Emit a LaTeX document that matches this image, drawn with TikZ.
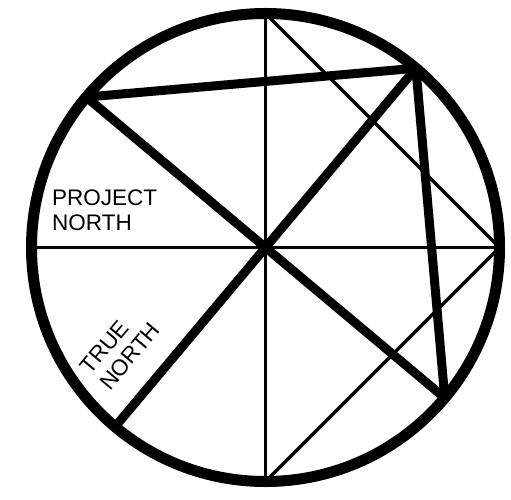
\documentclass[tikz,border=0pt]{standalone}
\usepackage{fontspec}
\setmainfont{Liberation Sans}
\begin{document}
\begin{tikzpicture}[x=1pt,y=1pt,
  thinline/.style={line width=3.5pt,line cap=butt},
  thickline/.style={line width=9pt,line cap=butt},
  ring/.style={line width=11pt},
  label/.style={inner sep=0pt,align=left,font=\fontsize{22.5}{25}\selectfont}]
\useasboundingbox (0,0) rectangle (511,499);
\coordinate (O) at (265.5,251.5);
\foreach \a/\n in {0/E,90/N,180/W,270/S,50/NE,140/NW,230/SW,320/SE}
  \coordinate (\n) at ([shift={(\a:234)}]O);
% thin half-square
\draw[thinline] (W) -- (E);
\draw[thinline] (N) -- (S);
\draw[thinline] (N) -- (E);
\draw[thinline] (E) -- (S);
% thick rotated half-square
\draw[thickline] (NW) -- (SE);
\draw[thickline] (SW) -- (NE);
\draw[thickline] (NW) -- (NE);
\draw[thickline] (NE) -- (SE);
% outer circle
\draw[ring] (O) circle (234);
% labels
\node[label,anchor=base west] (pn) at (52,269) {PROJECT\\NORTH};
\node[label,anchor=base west,rotate=50] (tn) at (110,107.3) {TRUE\\NORTH};
\end{tikzpicture}
\end{document}
